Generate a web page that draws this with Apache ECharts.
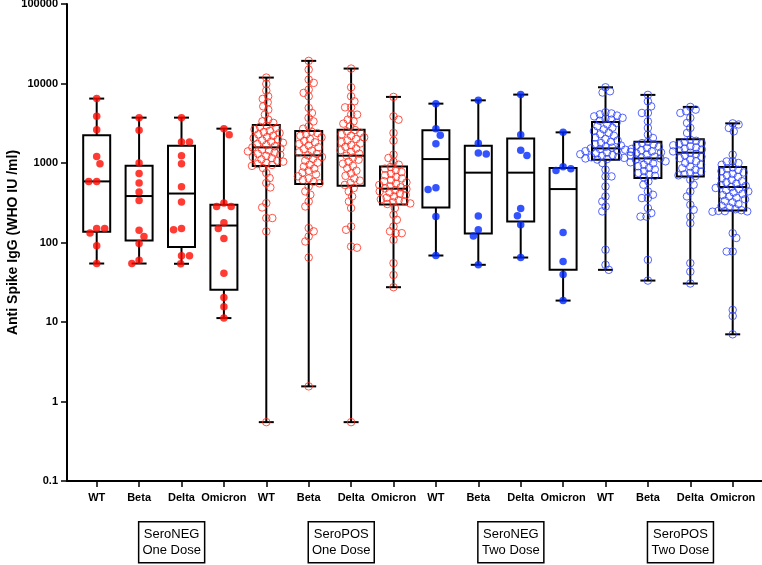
<!DOCTYPE html>
<html>
<head>
<meta charset="utf-8">
<script src="https://cdn.jsdelivr.net/npm/echarts@6/dist/echarts.min.js"></script>
<style>
  html, body { margin: 0; padding: 0; background: #fff; }
  #main { width: 762px; height: 565px; }
</style>
</head>
<body>
<div id="main"></div>
<script>
var variants = ['WT', 'Beta', 'Delta', 'Omicron'];
var groupNames = ['SeroNEG\nOne Dose', 'SeroPOS\nOne Dose', 'SeroNEG\nTwo Dose', 'SeroPOS\nTwo Dose'];
var yTickLabels = ['0.1', '1', '10', '100', '1000', '10000', '100000'];

// five number summaries (16 boxes, group by group)
var boxLow  = [54.4, 54.4, 54, 11.2,   0.55, 1.55, 0.55, 27.4,   68.6, 52.4, 64.7, 18.6,   45.3, 33.2, 30.5, 7];
var boxQ1   = [137, 106, 88, 25.5,     916, 544, 518, 301,       275, 130, 184, 45.3,      1101, 647, 678, 253];
var boxMed  = [587, 384, 413, 163.5,   1572, 1247, 1236, 475,    1120, 756, 756, 470,      1527, 1142, 1348, 499];
var boxQ3   = [2228, 925, 1652, 298,   3010, 2530, 2626, 906,    2585, 1652, 2040, 865,    3284, 1855, 1983, 891];
var boxHigh = [6460, 3720, 3720, 2704, 11870, 19260, 15410, 6780, 5580, 6140, 7250, 2429, 8960, 7190, 5075, 3152];

// individual values
var negOneWT = [6460, 3860, 2626, 1211, 980, 587, 587, 150, 150, 132, 91, 54.4];
var negOneBeta = [3720, 2576, 1000, 740, 560, 431, 338, 143, 119, 97, 60, 54.4];
var negOneDelta = [3720, 1839, 1839, 1236, 980, 503, 323, 150, 144.5, 68, 68, 54];
var negOneOmicron = [2704, 2272, 313, 284, 284, 177, 150, 112, 41, 20.3, 15.5, 11.2];

var posOneWT = [11870, 9880, 8140, 6900, 6400, 5800, 5160, 4690, 4060, 3510, 3340, 3200,
  2950, 2850, 2760, 2650, 2540, 2450, 2380, 2290, 2200, 2120, 2050, 1990, 1920, 1860, 1800, 1740,
  1680, 1620, 1572, 1530, 1480, 1440, 1400, 1350, 1310, 1270, 1230, 1190, 1150, 1110, 1070, 1040,
  1000, 970, 945, 920, 865, 748, 647, 560, 493, 313, 276, 203, 203, 138, 0.55];
var posOneBeta = [19260, 14960, 11200, 10180, 8380, 7620, 6900, 4930, 4260, 3690, 3340, 2890, 2700,
  2480, 2380, 2290, 2200, 2100, 2000, 1900, 1820, 1740, 1660, 1580, 1500, 1430, 1360, 1300, 1247,
  1190, 1130, 1070, 1010, 950, 900, 850, 800, 760, 720, 680, 640, 610, 580, 555,
  507, 439, 399, 328, 284, 152, 138, 119, 103, 64.7, 1.55];
var posOneDelta = [15410, 8960, 6900, 5970, 5010, 5010, 4060, 4060, 3510, 3340, 3126, 2890,
  2600, 2500, 2400, 2300, 2200, 2100, 2000, 1920, 1840, 1760, 1680, 1600, 1520, 1450, 1380, 1310,
  1236, 1170, 1100, 1040, 980, 920, 860, 800, 740, 690, 640, 600, 560, 530,
  484, 439, 380, 328, 271, 159, 144.5, 89, 86, 0.55];
var posOneOmicron = [6780, 3860, 3510, 2386, 1910, 1272, 1156, 1038, 952,
  890, 850, 810, 770, 730, 700, 670, 640, 610, 590, 570, 550, 530, 510, 495, 480, 470, 455, 440,
  425, 410, 395, 380, 365, 350, 340, 330, 320, 310, 305,
  271, 223, 193, 159, 138, 131, 131, 108, 55, 39, 27.4];

var negTwoWT = [5580, 2704, 2227, 1750, 489, 465, 212, 68.6];
var negTwoBeta = [6140, 1766, 1336, 1298, 215, 144.5, 120.4, 52.4];
var negTwoDelta = [7250, 2272, 1442, 1247, 268, 217, 167, 64.7];
var negTwoOmicron = [2429, 898, 848, 807, 133.6, 57.6, 39.5, 18.6];

var posTwoWT = [8960, 7980, 7700, 4340, 4200, 4090, 3950, 3860, 3700, 3600, 3510, 3400,
  3200, 3050, 2900, 2780, 2650, 2520, 2400, 2300, 2200, 2100, 2000, 1920, 1850, 1780, 1720, 1660,
  1600, 1560, 1527, 1500, 1470, 1440, 1410, 1380, 1350, 1320, 1290, 1260, 1230, 1200, 1180, 1160,
  1140, 1120, 1105, 1000, 824, 678, 678, 507, 380, 328, 284, 246, 81, 52.4, 45.3];
var posTwoBeta = [7190, 5970, 5160, 4260, 4260, 3340, 2760, 2272, 2065,
  1840, 1780, 1720, 1660, 1600, 1550, 1500, 1450, 1400, 1360, 1320, 1280, 1240, 1200, 1170, 1142,
  1110, 1080, 1050, 1020, 990, 950, 910, 870, 830, 790, 750, 720, 690, 660,
  587, 533, 439, 399, 362, 362, 271, 235, 212, 212, 60.5, 33.2];
var posTwoDelta = [5075, 4690, 4480, 4260, 3690, 3190, 2760, 2386,
  1960, 1900, 1840, 1780, 1720, 1670, 1620, 1570, 1520, 1480, 1440, 1400, 1348, 1300, 1250, 1200,
  1150, 1100, 1050, 1000, 950, 900, 860, 820, 780, 750, 720, 700, 685,
  616, 533, 439, 380, 298, 258, 212, 175, 55, 43, 30.5];
var posTwoOmicron = [3152, 3050, 2760, 2500, 1272, 1047, 1047, 1000, 950,
  880, 850, 820, 790, 760, 730, 700, 670, 640, 615, 590, 570, 550, 530, 515, 499, 485, 470, 455,
  440, 425, 410, 395, 380, 365, 350, 335, 320, 305, 290, 275, 262, 255,
  250, 248, 246, 244, 131, 114, 77, 77, 14.2, 11.9, 7];

var points = [
  negOneWT, negOneBeta, negOneDelta, negOneOmicron,
  posOneWT, posOneBeta, posOneDelta, posOneOmicron,
  negTwoWT, negTwoBeta, negTwoDelta, negTwoOmicron,
  posTwoWT, posTwoBeta, posTwoDelta, posTwoOmicron
];
var groupColor = ['#ff0a00', '#ff2a1a', '#0028ff', '#2a40ff'];
var groupFilled = [true, false, true, false];

var xLabels = [];
groupNames.forEach(function () { variants.forEach(function (v) { xLabels.push(v); }); });

var boxData = xLabels.map(function (_, i) {
  return [i, boxLow[i], boxQ1[i], boxMed[i], boxQ3[i], boxHigh[i]];
});

var font = 'Liberation Sans, Arial, sans-serif';
var chart = echarts.init(document.getElementById('main'));

chart.setOption({
  animation: false,
  grid: [
    { left: 75.5, right: 8.1, top: 4, height: 477, containLabel: false, outerBoundsMode: 'none' },
    { left: 67, right: 0, top: 4, height: 477, containLabel: false, outerBoundsMode: 'none' }
  ],
  xAxis: [
    {
      type: 'category', gridIndex: 0, data: xLabels, boundaryGap: true,
      axisLine: { show: false },
      axisTick: { show: true, alignWithLabel: true, length: 6, lineStyle: { color: '#000', width: 1.5 } },
      axisLabel: { interval: 0, color: '#000', fontWeight: 'bold', fontSize: 11, fontFamily: font, margin: 11 },
      splitLine: { show: false }
    },
    { type: 'value', gridIndex: 0, min: -0.5, max: 15.5, show: false },
    {
      type: 'value', gridIndex: 1, min: 0, max: 1,
      axisLine: { show: true, lineStyle: { color: '#000', width: 2 } },
      axisTick: { show: false }, axisLabel: { show: false }, splitLine: { show: false }
    }
  ],
  yAxis: [
    {
      type: 'log', logBase: 10, gridIndex: 0, min: 0.1, max: 100000, splitNumber: 6, offset: 8.5,
      axisLine: { show: true, onZero: false, lineStyle: { color: '#000', width: 2 } },
      axisTick: { show: true, length: 6, lineStyle: { color: '#000', width: 1.5 } },
      minorTick: { show: false },
      splitLine: { show: false },
      axisLabel: {
        color: '#000', fontWeight: 'bold', fontSize: 11, fontFamily: font, margin: 9,
        formatter: function (v) { return yTickLabels[Math.round(Math.log10(v)) + 1]; }
      },
      name: 'Anti Spike IgG (WHO IU /ml)', nameLocation: 'middle', nameGap: 47, nameMoveOverlap: false,
      nameTextStyle: { color: '#000', fontWeight: 'bold', fontSize: 14, fontFamily: font }
    },
    { type: 'value', gridIndex: 1, show: false }
  ],
  series: [{
    type: 'custom', xAxisIndex: 0, yAxisIndex: 0, z: 2,
    data: boxData,
    encode: { x: 0, y: [1, 2, 3, 4, 5] },
    renderItem: function (params, api) {
      var i = api.value(0);
      var lo = api.coord([i, api.value(1)]);
      var q1 = api.coord([i, api.value(2)]);
      var md = api.coord([i, api.value(3)]);
      var q3 = api.coord([i, api.value(4)]);
      var hi = api.coord([i, api.value(5)]);
      var x = lo[0], bw = 27, cw = 15;
      var ls = { stroke: '#000', lineWidth: 2 };
      return {
        type: 'group',
        children: [
          { type: 'line', shape: { x1: x, y1: hi[1], x2: x, y2: q3[1] }, style: ls },
          { type: 'line', shape: { x1: x, y1: q1[1], x2: x, y2: lo[1] }, style: ls },
          { type: 'line', shape: { x1: x - cw / 2, y1: hi[1], x2: x + cw / 2, y2: hi[1] }, style: ls },
          { type: 'line', shape: { x1: x - cw / 2, y1: lo[1], x2: x + cw / 2, y2: lo[1] }, style: ls },
          { type: 'rect', shape: { x: x - bw / 2, y: q3[1], width: bw, height: q1[1] - q3[1] },
            style: { stroke: '#000', lineWidth: 2, fill: 'none' } },
          { type: 'line', shape: { x1: x - bw / 2, y1: md[1], x2: x + bw / 2, y2: md[1] }, style: ls }
        ]
      };
    }
  }]
});

// beeswarm: put each dot at the free sideways offset nearest the centre line
function spread(vals, center, pxPerUnit, minDist) {
  var sorted = vals.slice().sort(function (a, b) { return b - a; });
  var placed = [];
  var flip = 1;
  return sorted.map(function (v) {
    var y = chart.convertToPixel({ yAxisIndex: 0 }, v);
    var blocks = [];
    placed.forEach(function (p) {
      var dy = Math.abs(p[1] - y);
      if (dy < minDist) {
        var w = Math.sqrt(minDist * minDist - dy * dy);
        blocks.push([p[0] - w, p[0] + w]);
      }
    });
    var cands = [0];
    blocks.forEach(function (b) { cands.push(b[0], b[1]); });
    var free = cands.filter(function (c) {
      return blocks.every(function (b) { return c <= b[0] + 1e-6 || c >= b[1] - 1e-6; });
    });
    free.sort(function (a, b) {
      var d = Math.abs(a) - Math.abs(b);
      if (Math.abs(d) > 0.01) return d;
      return flip * (b - a);
    });
    var off = free[0];
    if (off !== 0) flip = -flip;
    placed.push([off, y]);
    return [center + off / pxPerUnit, v];
  });
}

var pxPerUnit = chart.convertToPixel({ xAxisIndex: 1 }, 1) - chart.convertToPixel({ xAxisIndex: 1 }, 0);

var scatterSeries = groupNames.map(function (g, gi) {
  var data = [];
  for (var j = 0; j < 4; j++) {
    var idx = gi * 4 + j;
    data = data.concat(spread(points[idx], idx, pxPerUnit, groupFilled[gi] ? 8 : 6));
  }
  return {
    type: 'scatter', xAxisIndex: 1, yAxisIndex: 0, z: 3,
    symbol: 'circle', symbolSize: 7.5,
    itemStyle: groupFilled[gi]
      ? { color: groupColor[gi] }
      : { color: 'rgba(255,255,255,0)', borderColor: groupColor[gi], borderWidth: 1 },
    data: data
  };
});

var labelBoxes = groupNames.map(function (g, gi) {
  var cx = chart.convertToPixel({ xAxisIndex: 1 }, gi * 4 + 1.75);
  return {
    type: 'group', left: cx - 33, top: 521,
    children: [
      { type: 'rect', shape: { x: 0, y: 0, width: 66, height: 41 },
        style: { fill: '#fff', stroke: '#000', lineWidth: 1.5 } },
      { type: 'text', x: 33, y: 21,
        style: { text: g, fill: '#000', font: '13px ' + font, align: 'center', verticalAlign: 'middle', lineHeight: 16 } }
    ]
  };
});

chart.setOption({
  series: [chart.getOption().series[0]].concat(scatterSeries),
  graphic: labelBoxes
});
</script>
</body>
</html>
